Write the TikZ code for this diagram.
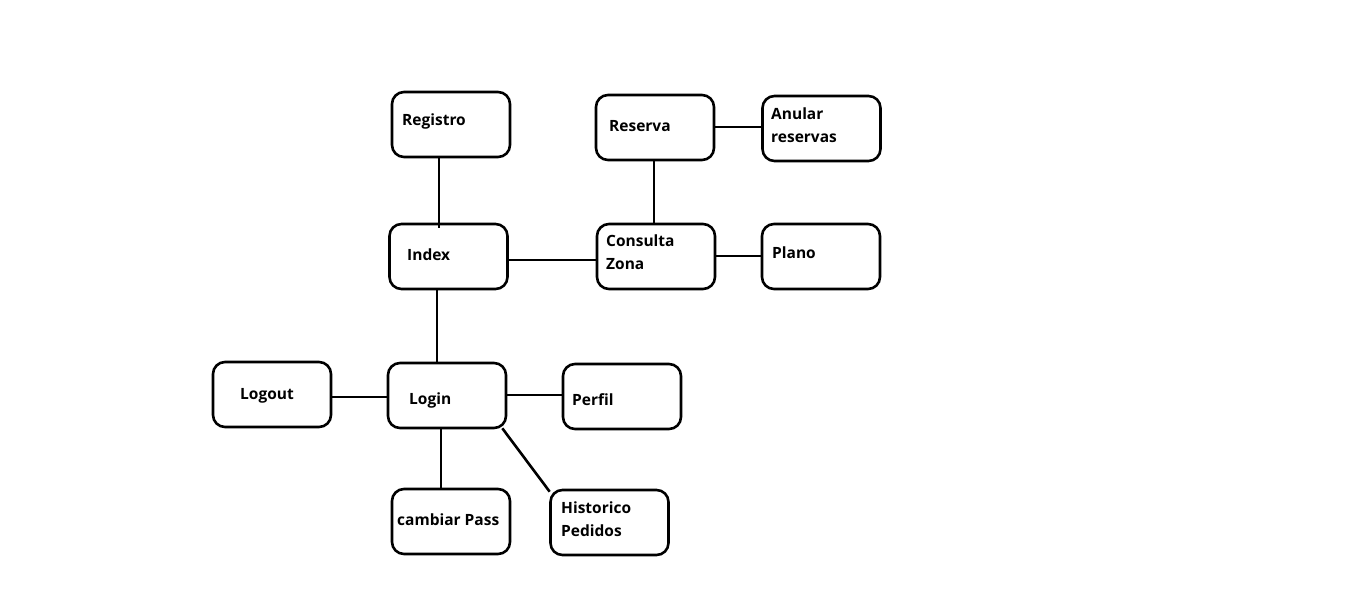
\documentclass[tikz,border=0pt]{standalone}
\usepackage{fontspec}
\setmainfont{Open Sans}
\begin{document}
\begin{tikzpicture}[x=1pt,y=-1pt,
  box/.style={draw, line width=2.6pt, rounded corners=12pt, minimum width=118pt, minimum height=65pt, inner sep=0pt},
  lbl/.style={anchor=west, inner sep=0pt, font=\fontsize{15.5}{23}\selectfont\bfseries, align=left},
  conn/.style={line width=2.6pt}]
\useasboundingbox (0,0) rectangle (1360,614);
\node[box] (reg) at (451,124.5) {};
\node[box] (res) at (655,127.5) {};
\node[box] (anu) at (821.5,128.5) {};
\node[box] (idx) at (448.5,256.5) {};
\node[box] (con) at (656,256.5) {};
\node[box] (pla) at (821,256.5) {};
\node[box] (lout) at (272,394.5) {};
\node[box] (lin) at (447,395.5) {};
\node[box] (per) at (622,396.5) {};
\node[box] (cam) at (451,521.5) {};
\node[box] (his) at (609.5,522.5) {};
\node[lbl] (treg) at (402,121) {Registro};
\node[lbl] (tres) at (609,126) {Reserva};
\node[lbl] (tanu) at (771,125.5) {Anular\\reservas};
\node[lbl] (tidx) at (407,255) {Index};
\node[lbl] (tcon) at (606,252.5) {Consulta\\Zona};
\node[lbl] (tpla) at (772,253) {Plano};
\node[lbl] (tlout) at (240,396) {Logout};
\node[lbl] (tlin) at (409,400) {Login};
\node[lbl] (tper) at (572,400) {Perfil};
\node[lbl] (tcam) at (397,520) {cambiar Pass};
\node[lbl] (this) at (561,519.5) {Historico\\Pedidos};
\draw[conn] ([xshift=-12pt]reg.south) -- ([xshift=-9.5pt,yshift=-5pt]idx.north);
\draw[conn] ([yshift=-3.5pt]idx.east) -- ([yshift=-3.5pt]con.west);
\draw[conn] ([xshift=-1pt]res.south) -- ([xshift=-2pt]con.north);
\draw[conn] ([yshift=0.5pt]res.east) -- ([yshift=1.5pt]anu.west);
\draw[conn] ([yshift=0.5pt]con.east) -- ([yshift=0.5pt]pla.west);
\draw[conn] ([xshift=-11.5pt]idx.south) -- ([xshift=-10pt]lin.north);
\draw[conn] ([yshift=-2.5pt]lout.east) -- ([yshift=-1.5pt,xshift=2pt]lin.west);
\draw[conn] ([yshift=0.5pt]lin.east) -- ([yshift=1.5pt]per.west);
\draw[conn] ([xshift=-6pt]lin.south) -- ([xshift=-10pt]cam.north);
\draw[conn] ([xshift=-5pt,yshift=1pt]lin.south east) -- ([xshift=0.5pt,yshift=-3pt]his.north west);
\end{tikzpicture}
\end{document}
